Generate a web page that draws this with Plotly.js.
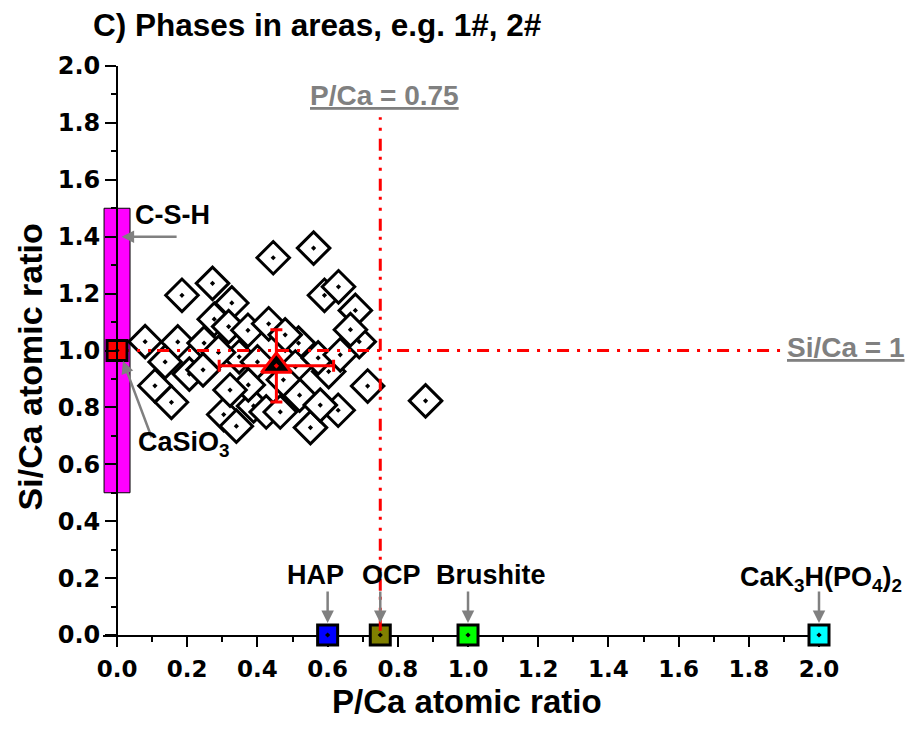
<!DOCTYPE html>
<html>
<head>
<meta charset="utf-8">
<script src="https://cdn.plot.ly/plotly-3.0.1.min.js"></script>
<style>html,body{margin:0;padding:0;background:#fff;}</style>
</head>
<body>
<div id="chart" style="width:909px;height:736px;"></div>
<script>
// ---- data ----
const pointsX = [0.080, 0.173, 0.248, 0.185, 0.272, 0.277, 0.327, 0.318, 0.373, 0.432,
                 0.445, 0.560, 0.591, 0.679, 0.690, 0.517, 0.348, 0.289, 0.206, 0.108,
                 0.155, 0.304, 0.340, 0.389, 0.425, 0.551, 0.630, 0.520, 0.603, 0.714,
                 0.879, 0.631, 0.400, 0.508, 0.474, 0.374, 0.579, 0.465, 0.245, 0.573,
                 0.636, 0.479, 0.665, 0.137, 0.322];
const pointsY = [1.031, 1.030, 1.026, 1.194, 1.236, 1.110, 1.167, 1.084, 1.071, 1.094,
                 1.326, 1.360, 1.194, 1.141, 1.031, 1.026, 0.978, 0.993, 0.917, 0.876,
                 0.818, 0.775, 0.734, 0.805, 0.784, 0.729, 0.790, 0.843, 0.926, 0.875,
                 0.823, 1.224, 0.960, 0.942, 0.897, 0.879, 0.808, 0.784, 0.932, 0.974,
                 0.985, 1.055, 1.073, 0.960, 0.861];

const meanX = [0.454];
const meanY = [0.946];
const meanErrX = [0.163];
const meanErrY = [0.127];

const refNames = ['HAP', 'OCP', 'Brushite', 'CaK<sub>3</sub>H(PO<sub>4</sub>)<sub>2</sub>'];
const refX = [0.6, 0.75, 1.0, 2.0];
const refY = [0, 0, 0, 0];
const refColors = ['#0000FF', '#808000', '#00FF00', '#00FFFF'];

const casio3X = [0];
const casio3Y = [1.0];

const cshX = 0;
const cshLow = 0.5;
const cshHigh = 1.5;
const cshWidth = 0.074;

const siCaLineX = [0, 1.9];
const siCaLineY = [1, 1];
const pCaLineX = [0.75, 0.75];
const pCaLineY = [0.015, 1.82];

const xRange = [-0.04, 2.0];
const yRange = [0, 2.0];
const xTickVals = [0, 0.2, 0.4, 0.6, 0.8, 1.0, 1.2, 1.4, 1.6, 1.8, 2.0];
const xTickText = ['0.0', '0.2', '0.4', '0.6', '0.8', '1.0', '1.2', '1.4', '1.6', '1.8', '2.0'];
const yTickVals = [0, 0.2, 0.4, 0.6, 0.8, 1.0, 1.2, 1.4, 1.6, 1.8, 2.0];
const yTickText = ['0.0', '0.2', '0.4', '0.6', '0.8', '1.0', '1.2', '1.4', '1.6', '1.8', '2.0'];

// ---- styles ----
const FONT = 'Liberation Sans, Arial, sans-serif';
const TICKFONT = 'DejaVu Sans, sans-serif';
const GRAY = '#808080';
const DASH = '12px,8px,3px,8px,3px,6px';

const cshRectX = [cshX - cshWidth / 2, cshX + cshWidth / 2, cshX + cshWidth / 2, cshX - cshWidth / 2, cshX - cshWidth / 2];
const cshRectY = [cshLow, cshLow, cshHigh, cshHigh, cshLow];

const traces = [
  {
    type: 'scatter', mode: 'lines', x: cshRectX, y: cshRectY,
    fill: 'toself', fillcolor: '#FF00FF',
    line: {color: '#000000', width: 1}, hoverinfo: 'skip'
  },
  {
    type: 'scatter', mode: 'markers', x: pointsX, y: pointsY,
    marker: {symbol: 'diamond-dot', size: 25, color: '#FFFFFF',
             line: {color: '#000000', width: 3}}
  },
  {
    type: 'scatter', mode: 'lines', x: siCaLineX, y: siCaLineY,
    line: {color: '#FF0000', width: 3, dash: DASH}, hoverinfo: 'skip'
  },
  {
    type: 'scatter', mode: 'markers', x: meanX, y: meanY,
    error_x: {type: 'data', array: meanErrX, color: '#FF0000', thickness: 3, width: 6},
    error_y: {type: 'data', array: meanErrY, color: '#FF0000', thickness: 3, width: 6},
    marker: {symbol: 'triangle-up-dot', size: 26, color: '#000000',
             line: {color: '#FF0000', width: 3}}
  },
  {
    type: 'scatter', mode: 'markers', x: refX, y: refY, cliponaxis: false,
    marker: {symbol: 'square-dot', size: 20, color: refColors,
             line: {color: '#000000', width: 3}}
  },
  {
    type: 'scatter', mode: 'lines', x: pCaLineX, y: pCaLineY, cliponaxis: false,
    line: {color: '#FF0000', width: 3, dash: DASH}, hoverinfo: 'skip'
  },
  {
    type: 'scatter', mode: 'markers', x: casio3X, y: casio3Y, cliponaxis: false,
    marker: {symbol: 'square-dot', size: 20, color: '#FF0000',
             line: {color: '#000000', width: 3}}
  }
];

const arrowBase = {
  xref: 'x', yref: 'y', axref: 'x', ayref: 'y', text: '',
  showarrow: true, arrowhead: 2, arrowsize: 1, arrowwidth: 2.5, arrowcolor: GRAY
};
const labelFont = {family: FONT, size: 27, color: '#000000', weight: 700};

const annotations = [];
// arrows to the reference phases
refX.forEach((x) => {
  annotations.push(Object.assign({}, arrowBase, {x: x, y: 0.042, ax: x, ay: 0.158}));
});
const refLabelX = [0.565, 0.782, 1.066];
refNames.slice(0, 3).forEach((name, i) => {
  annotations.push({xref: 'x', yref: 'y', x: refLabelX[i], y: 0.211, text: name,
    showarrow: false, font: labelFont, xanchor: 'center', yanchor: 'middle'});
});
annotations.push({xref: 'paper', yref: 'y', x: 1.0028, y: 0.197, text: refNames[3],
  showarrow: false, font: labelFont, xanchor: 'center', yanchor: 'middle'});
// C-S-H
annotations.push(Object.assign({}, arrowBase, {x: 0.013, y: 1.40, ax: 0.174, ay: 1.40}));
annotations.push({xref: 'x', yref: 'y', x: 0.158, y: 1.476, text: 'C-S-H',
  showarrow: false, font: labelFont, xanchor: 'center', yanchor: 'middle'});
// CaSiO3
annotations.push(Object.assign({}, arrowBase, {x: 0.017, y: 0.963, ax: 0.1, ay: 0.69}));
annotations.push({xref: 'x', yref: 'y', x: 0.19, y: 0.672, text: 'CaSiO<sub>3</sub>',
  showarrow: false, font: labelFont, xanchor: 'center', yanchor: 'middle'});
// guide labels
annotations.push({xref: 'x', yref: 'y', x: 0.762, y: 1.895, text: '<u>P/Ca = 0.75</u>',
  showarrow: false, font: {family: FONT, size: 28, color: GRAY, weight: 700},
  xanchor: 'center', yanchor: 'middle'});
annotations.push({xref: 'paper', yref: 'y', x: 1.0384, y: 1.012, text: '<u>Si/Ca = 1</u>',
  showarrow: false, font: {family: FONT, size: 28, color: GRAY, weight: 700},
  xanchor: 'center', yanchor: 'middle'});
// axis titles
annotations.push({xref: 'paper', yref: 'paper', x: -0.102, y: 0.472, text: 'Si/Ca atomic ratio',
  textangle: -90, showarrow: false, font: {family: FONT, size: 34, color: '#000000', weight: 700},
  xanchor: 'center', yanchor: 'middle'});
annotations.push({xref: 'paper', yref: 'paper', x: 0.509, y: -0.117, text: 'P/Ca atomic ratio',
  showarrow: false, font: {family: FONT, size: 33, color: '#000000', weight: 700},
  xanchor: 'center', yanchor: 'middle', borderpad: 0});

const layout = {
  width: 909, height: 736,
  margin: {l: 103, r: 90, t: 66, b: 101, pad: 0},
  paper_bgcolor: '#FFFFFF', plot_bgcolor: '#FFFFFF',
  showlegend: false,
  font: {family: FONT, color: '#000000'},
  title: {
    text: 'C) Phases in areas, e.g. 1#, 2#',
    font: {family: FONT, size: 31.5, color: '#000000', weight: 700},
    xref: 'container', x: 93 / 909, xanchor: 'left',
    yref: 'container', y: 1 - 25 / 736, yanchor: 'middle'
  },
  xaxis: {
    range: xRange, showgrid: false, zeroline: false,
    showline: true, linewidth: 2, linecolor: '#000000',
    ticks: 'outside', ticklen: 10, tickwidth: 2, tickcolor: '#000000',
    ticklabelstandoff: 2,
    tickmode: 'array', tickvals: xTickVals, ticktext: xTickText,
    tickfont: {family: TICKFONT, size: 23, color: '#000000', weight: 700},
    minor: {dtick: 0.1, tick0: 0, ticks: 'outside', ticklen: 5, tickwidth: 2, tickcolor: '#000000', showgrid: false},
    layer: 'below traces', fixedrange: true
  },
  yaxis: {
    range: yRange, showgrid: false, zeroline: false,
    anchor: 'free', position: (0 - xRange[0]) / (xRange[1] - xRange[0]),
    showline: true, linewidth: 2, linecolor: '#000000',
    ticks: 'outside', ticklen: 11, tickwidth: 2, tickcolor: '#000000',
    tickmode: 'array', tickvals: yTickVals, ticktext: yTickText,
    tickfont: {family: TICKFONT, size: 24, color: '#000000', weight: 700},
    minor: {dtick: 0.1, tick0: 0, ticks: 'outside', ticklen: 5, tickwidth: 2, tickcolor: '#000000', showgrid: false},
    layer: 'above traces', fixedrange: true
  },
  annotations: annotations
};

Plotly.newPlot('chart', traces, layout, {displayModeBar: false, staticPlot: true});
</script>
</body>
</html>
